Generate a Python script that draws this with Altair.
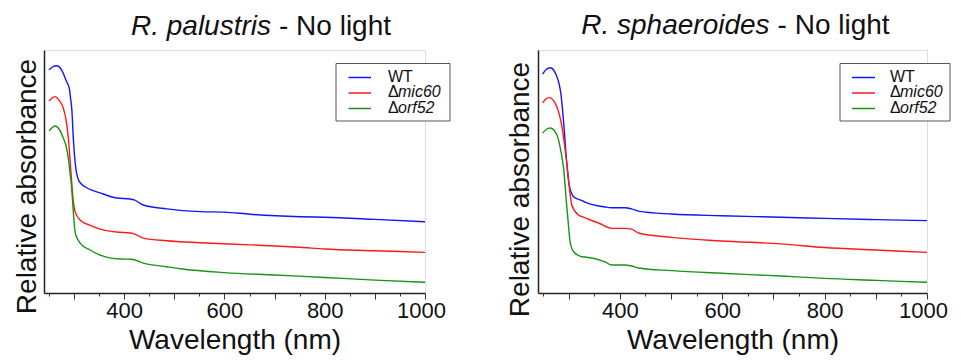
import altair as alt
import pandas as pd

# ---------------- data ----------------
SERIES = ["WT", "Δmic60", "Δorf52"]
COLORS = ["#1414ff", "#ff1a1a", "#179417"]

PAL_WT_NM = [250, 257, 265, 275, 285, 290.5, 293, 295.5, 298.5, 302, 305, 310.5, 322, 352, 385, 412, 420, 438, 485, 551, 600, 651, 751, 800, 900, 1000]
PAL_WT = [0.918, 0.930, 0.935, 0.918, 0.870, 0.842, 0.801, 0.755, 0.637, 0.540, 0.493, 0.458, 0.437, 0.412, 0.391, 0.387, 0.383, 0.362, 0.346, 0.335, 0.333, 0.324, 0.314, 0.312, 0.303, 0.293]

PAL_MIC_NM = [250, 256, 262, 270, 278.6, 284, 288.6, 292, 295.2, 298.5, 302, 312, 330, 352, 385, 412, 420, 438, 485, 551, 651, 751, 800, 900, 1000]
PAL_MIC = [0.790, 0.802, 0.808, 0.794, 0.760, 0.712, 0.637, 0.547, 0.458, 0.376, 0.335, 0.300, 0.280, 0.263, 0.251, 0.247, 0.243, 0.226, 0.215, 0.207, 0.198, 0.188, 0.181, 0.174, 0.167]

PAL_ORF_NM = [250, 256, 262, 270, 278.6, 284, 288.6, 292, 295.2, 298.5, 302, 307, 312, 332, 352, 392, 415, 438, 485, 512, 600, 700, 800, 900, 1000]
PAL_ORF = [0.667, 0.680, 0.687, 0.675, 0.637, 0.605, 0.554, 0.494, 0.431, 0.335, 0.252, 0.222, 0.205, 0.177, 0.156, 0.140, 0.139, 0.123, 0.108, 0.100, 0.084, 0.074, 0.064, 0.053, 0.044]

SPH_WT_NM = [249, 256, 264, 277, 285, 290, 296, 301, 310, 326, 332, 371, 384, 410, 423, 436, 501, 598, 715, 800, 900, 1000]
SPH_WT = [0.901, 0.920, 0.927, 0.890, 0.815, 0.704, 0.539, 0.444, 0.395, 0.380, 0.374, 0.354, 0.351, 0.351, 0.346, 0.337, 0.325, 0.318, 0.312, 0.307, 0.302, 0.298]

SPH_MIC_NM = [249, 255, 262, 277, 285, 290, 296, 303, 306, 319, 326, 358, 384, 410, 423, 436, 501, 598, 715, 800, 900, 1000]
SPH_MIC = [0.782, 0.798, 0.804, 0.765, 0.704, 0.638, 0.539, 0.403, 0.362, 0.321, 0.314, 0.288, 0.266, 0.266, 0.263, 0.247, 0.229, 0.214, 0.202, 0.187, 0.177, 0.167]

SPH_ORF_NM = [249, 256, 264, 277, 285, 290, 296, 300, 303, 310, 326, 332, 371, 384, 410, 423, 436, 501, 598, 715, 800, 900, 1000]
SPH_ORF = [0.658, 0.673, 0.679, 0.650, 0.580, 0.514, 0.362, 0.267, 0.206, 0.169, 0.149, 0.148, 0.128, 0.115, 0.115, 0.111, 0.103, 0.092, 0.081, 0.070, 0.060, 0.052, 0.044]

X_TICKS = list(range(250, 1001, 50))
FONT = "Liberation Sans"


def frame(pairs):
    rows = []
    for name, nm, ab in pairs:
        for w, a in zip(nm, ab):
            rows.append({"series": name, "nm": w, "abs": a})
    return pd.DataFrame(rows)


def panel(df, width, species, title_y, junction, legend, ytitle_x, ytitle_y):
    legend_x0, legend_w, line_dx, line_len, text_dx = legend
    height = 243
    x_axis = alt.Axis(
        values=X_TICKS, format="d",
        labelExpr="datum.value % 200 === 0 ? datum.label : ''",
        labelOverlap=False, labelFlush=False, labelFontSize=22, labelFont=FONT, labelColor="#111",
        labelBaseline="alphabetic", labelPadding=18,
        labelOffset={"condition": {"test": "datum.value === 1000", "value": -4}, "value": 0},
        tickSize={"condition": {"test": "datum.value % 100 === 0", "value": 6}, "value": 3},
        tickColor="#333", tickWidth=1, domainColor="#222", domainWidth=1.5,
        grid=False, title="Wavelength (nm)", titleFontSize=28, titleFont=FONT,
        titleFontWeight="normal", titleColor="#111", titleBaseline="alphabetic", titleY=55,
    )
    y_axis = alt.Axis(
        labels=False, ticks=False, grid=False, domainColor="#222", domainWidth=1.5,
        title="Relative absorbance", titleFontSize=28, titleFont=FONT,
        titleFontWeight="normal", titleColor="#111", titleBaseline="alphabetic",
        titleAngle=270, titleX=ytitle_x, titleY=ytitle_y, titleAlign="center",
    )
    lines = alt.Chart(df).mark_line(strokeWidth=1.4, interpolate="monotone").encode(
        x=alt.X("nm:Q", scale=alt.Scale(domain=[240, 1000], nice=False, zero=False), axis=x_axis),
        y=alt.Y("abs:Q", scale=alt.Scale(domain=[0, 1], nice=False), axis=y_axis),
        color=alt.Color("series:N", scale=alt.Scale(domain=SERIES, range=COLORS), legend=None),
    )
    one = alt.Data(values=[{"a": 1}])
    layers = [lines]
    layers.append(alt.Chart(one).mark_text(
        text=species, fontStyle="italic", font=FONT, fontSize=28, align="right",
        baseline="alphabetic", color="#111").encode(x=alt.value(junction), y=alt.value(title_y)))
    layers.append(alt.Chart(one).mark_text(
        text="- No light", font=FONT, fontSize=28, align="left",
        baseline="alphabetic", color="#111").encode(x=alt.value(junction + 8), y=alt.value(title_y)))
    bx0, bx1, by0, by1 = legend_x0, legend_x0 + legend_w, 13.5, 71
    layers.append(alt.Chart(one).mark_rect(fill="white", stroke="#555", strokeWidth=1).encode(
        x=alt.value(bx0), x2=alt.value(bx1), y=alt.value(by0), y2=alt.value(by1)))
    rows_y = [27.5, 43, 58.5]
    lx0 = bx0 + line_dx
    lx1 = lx0 + line_len
    tx = bx0 + text_dx
    for i, name in enumerate(SERIES):
        yy = rows_y[i]
        layers.append(alt.Chart(one).mark_rule(strokeWidth=1.5, color=COLORS[i]).encode(
            x=alt.value(lx0), x2=alt.value(lx1), y=alt.value(yy)))
        if name.startswith("Δ"):
            layers.append(alt.Chart(one).mark_text(
                text="Δ", font=FONT, fontSize=16, align="left", baseline="middle", color="#111").encode(
                x=alt.value(tx), y=alt.value(yy - 1)))
            layers.append(alt.Chart(one).mark_text(
                text=name[1:], font=FONT, fontSize=16, fontStyle="italic", align="left",
                baseline="middle", color="#111").encode(x=alt.value(tx + 10), y=alt.value(yy - 1)))
        else:
            layers.append(alt.Chart(one).mark_text(
                text=name, font=FONT, fontSize=16, align="left", baseline="middle", color="#111").encode(
                x=alt.value(tx), y=alt.value(yy - 1)))
    return alt.layer(*layers).properties(width=width, height=height)


pal = frame([("WT", PAL_WT_NM, PAL_WT), ("Δmic60", PAL_MIC_NM, PAL_MIC), ("Δorf52", PAL_ORF_NM, PAL_ORF)])
sph = frame([("WT", SPH_WT_NM, SPH_WT), ("Δmic60", SPH_MIC_NM, SPH_MIC), ("Δorf52", SPH_ORF_NM, SPH_ORF)])

left = panel(pal, 381, "R. palustris", -15, 227, (292, 114, 12.5, 22.5, 52), -9, 136)
right = panel(sph, 389, "R. sphaeroides", -16.5, 231.6, (302, 110, 12, 23, 50), -10, 139)

chart = alt.hconcat(left, right, spacing=54).properties(
    autosize=alt.AutoSizeParams(type="none"),
    padding={"left": 36, "top": 42, "right": 909, "bottom": 304},
).configure_view(stroke=None).configure(background="white")

chart.save("out.html", embed_options={"renderer": "svg", "actions": False})
